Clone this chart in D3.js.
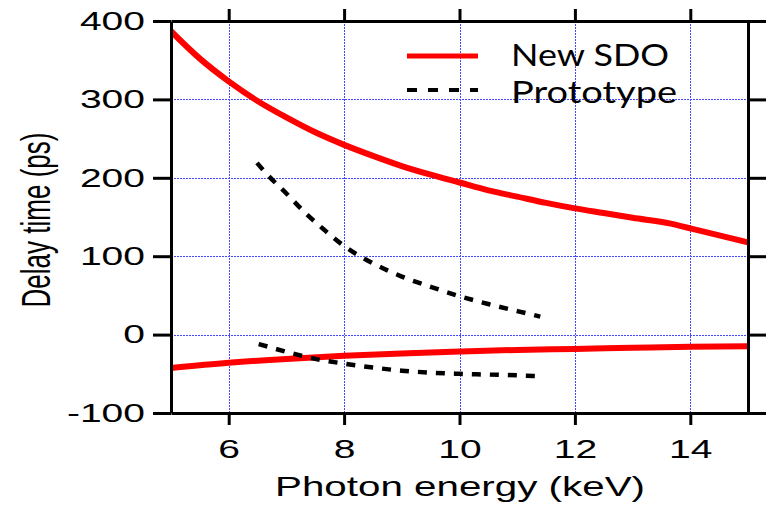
<!DOCTYPE html>
<html>
<head>
<meta charset="utf-8">
<script src="https://d3js.org/d3.v7.min.js"></script>
<style>
  body { margin: 0; background: #fff; }
  svg { display: block; }
</style>
</head>
<body>
<div id="chart"></div>
<script>
// Data (photon energy in keV, delay in ps)
const sdoUpperEnergy = [5, 5.5, 6, 6.5, 7, 7.5, 8, 8.5, 9, 9.5, 10, 10.5, 11, 11.5, 12, 12.5, 13, 13.66, 14, 14.5, 15];
const sdoUpperDelay  = [387, 352, 323, 298, 277, 258, 242, 228, 215, 204, 194, 184, 176, 168, 161, 155, 149, 141.5, 135.5, 126.5, 117.7];

const sdoLowerEnergy = [5, 6, 7, 8, 9, 10, 11, 12, 13, 14, 15];
const sdoLowerDelay  = [-42.5, -36, -31, -27, -24, -21.5, -19.5, -18.3, -16.8, -15.5, -15];

const protoUpperEnergy = [6.49, 6.67, 7, 7.33, 7.65, 8, 8.5, 9, 9.5, 10, 10.5, 11, 11.4];
const protoUpperDelay  = [219, 204, 180, 155, 134, 113, 91, 74, 61, 49, 39, 30, 23];

const protoLowerEnergy = [6.52, 7, 7.5, 8, 8.5, 9, 9.5, 10, 10.5, 11, 11.4];
const protoLowerDelay  = [-12, -22, -31, -37, -42, -46, -48.5, -50, -51, -52, -53];

const xTicks = [6, 8, 10, 12, 14];
const yTicks = [-100, 0, 100, 200, 300, 400];
const legendLabels = ['New SDO', 'Prototype'];

const width = 767;
const height = 505;
const margin = { top: 21, right: 19, bottom: 92, left: 171 };
const innerW = width - margin.left - margin.right;
const innerH = height - margin.top - margin.bottom;

const svg = d3.select('#chart')
    .append('svg')
    .attr('width', width)
    .attr('height', height);

const g = svg.append('g')
    .attr('transform', `translate(${margin.left},${margin.top})`);

const x = d3.scaleLinear().domain([5, 15]).range([0, innerW]);
const y = d3.scaleLinear().domain([-100, 400]).range([innerH, 0]);

// Clip curves to the plotting box
g.append('clipPath')
    .attr('id', 'plot-clip')
    .append('rect')
    .attr('width', innerW)
    .attr('height', innerH);

// Blue dotted grid
const grid = g.append('g').attr('class', 'grid');
grid.selectAll('line.vgrid')
    .data(xTicks)
    .enter().append('line')
    .attr('class', 'vgrid')
    .attr('x1', d => Math.round(x(d)) + 0.5).attr('x2', d => Math.round(x(d)) + 0.5)
    .attr('y1', 0).attr('y2', innerH);
grid.selectAll('line.hgrid')
    .data(yTicks.filter(d => d > -100 && d < 400))
    .enter().append('line')
    .attr('class', 'hgrid')
    .attr('x1', 0).attr('x2', innerW)
    .attr('y1', d => Math.round(y(d)) + 0.5).attr('y2', d => Math.round(y(d)) + 0.5);
grid.selectAll('line')
    .attr('stroke', '#4646ff')
    .attr('stroke-width', 1)
    .attr('stroke-dasharray', '1.5,1.5')
    .attr('shape-rendering', 'crispEdges');

// Curves
const line = d3.line()
    .x(d => x(d[0]))
    .y(d => y(d[1]))
    .curve(d3.curveMonotoneX);

const zip = (a, b) => a.map((v, i) => [v, b[i]]);

const series = [
    { pts: zip(sdoUpperEnergy, sdoUpperDelay), color: '#ff0000', width: 6, dash: null },
    { pts: zip(sdoLowerEnergy, sdoLowerDelay), color: '#ff0000', width: 6, dash: null },
    { pts: zip(protoUpperEnergy, protoUpperDelay), color: '#000', width: 4.5, dash: '9,9' },
    { pts: zip(protoLowerEnergy, protoLowerDelay), color: '#000', width: 4.5, dash: '9,9' }
];

g.append('g')
    .attr('clip-path', 'url(#plot-clip)')
    .selectAll('path')
    .data(series)
    .enter().append('path')
    .attr('d', d => line(d.pts))
    .attr('fill', 'none')
    .attr('stroke', d => d.color)
    .attr('stroke-width', d => d.width)
    .attr('stroke-dasharray', d => d.dash);

// Axes on all four sides, ticks pointing outward
const plainFormat = d => String(d); // hyphen minus like the original
const axisLeft = d3.axisLeft(y).tickValues(yTicks).tickSize(18).tickSizeOuter(0).tickPadding(8).tickFormat(plainFormat);
const axisRight = d3.axisRight(y).tickValues(yTicks).tickSize(18).tickSizeOuter(0).tickFormat('');
const axisBottom = d3.axisBottom(x).tickValues(xTicks).tickSize(12).tickSizeOuter(0).tickPadding(15).tickFormat(plainFormat);
const axisTop = d3.axisTop(x).tickValues(xTicks).tickSize(12).tickSizeOuter(0).tickFormat('');

const gLeft = g.append('g').call(axisLeft);
const gRight = g.append('g').attr('transform', `translate(${innerW},0)`).call(axisRight);
const gBottom = g.append('g').attr('transform', `translate(0,${innerH})`).call(axisBottom);
const gTop = g.append('g').call(axisTop);

[gLeft, gRight, gBottom, gTop].forEach(ax => {
    ax.selectAll('path.domain').attr('stroke', '#000').attr('stroke-width', 3);
    ax.selectAll('.tick line').attr('stroke', '#000').attr('stroke-width', 3);
    ax.selectAll('.tick text')
        .attr('fill', '#000')
        .style('font-family', '"Liberation Sans", Arial, sans-serif')
        .style('font-size', '26px');
});

// The original tick labels are stretched horizontally
svg.selectAll('.tick text').each(function() {
    const len = this.getComputedTextLength();
    if (len > 0) {
        d3.select(this)
            .attr('textLength', len * 1.5)
            .attr('lengthAdjust', 'spacingAndGlyphs');
    }
});

// Axis titles
svg.append('text')
    .attr('x', 460)
    .attr('y', 496)
    .attr('text-anchor', 'middle')
    .attr('textLength', 370)
    .attr('lengthAdjust', 'spacingAndGlyphs')
    .style('font-family', '"Liberation Sans", Arial, sans-serif')
    .style('font-size', '28px')
    .text('Photon energy (keV)');

svg.append('text')
    .attr('transform', 'translate(50,220) rotate(-90)')
    .attr('text-anchor', 'middle')
    .attr('textLength', 175)
    .attr('lengthAdjust', 'spacingAndGlyphs')
    .style('font-family', '"Liberation Sans", Arial, sans-serif')
    .style('font-size', '40px')
    .text('Delay time (ps)');

// Legend
const legend = svg.append('g').attr('class', 'legend');
const legendItems = [
    { label: legendLabels[0], color: '#ff0000', width: 5, dash: null, ly: 56, ty: 65.5, len: 158 },
    { label: legendLabels[1], color: '#000', width: 4, dash: '10,11', ly: 90, ty: 103, len: 166 }
];

legendItems.forEach(item => {
    legend.append('line')
        .attr('x1', 407).attr('x2', 478)
        .attr('y1', item.ly).attr('y2', item.ly)
        .attr('stroke', item.color)
        .attr('stroke-width', item.width)
        .attr('stroke-dasharray', item.dash);
    legend.append('text')
        .attr('x', 511)
        .attr('y', item.ty)
        .attr('textLength', item.len)
        .attr('lengthAdjust', 'spacingAndGlyphs')
        .style('font-family', 'Lato, "Open Sans", sans-serif')
        .style('font-size', '31px')
        .text(item.label);
});
</script>
</body>
</html>
